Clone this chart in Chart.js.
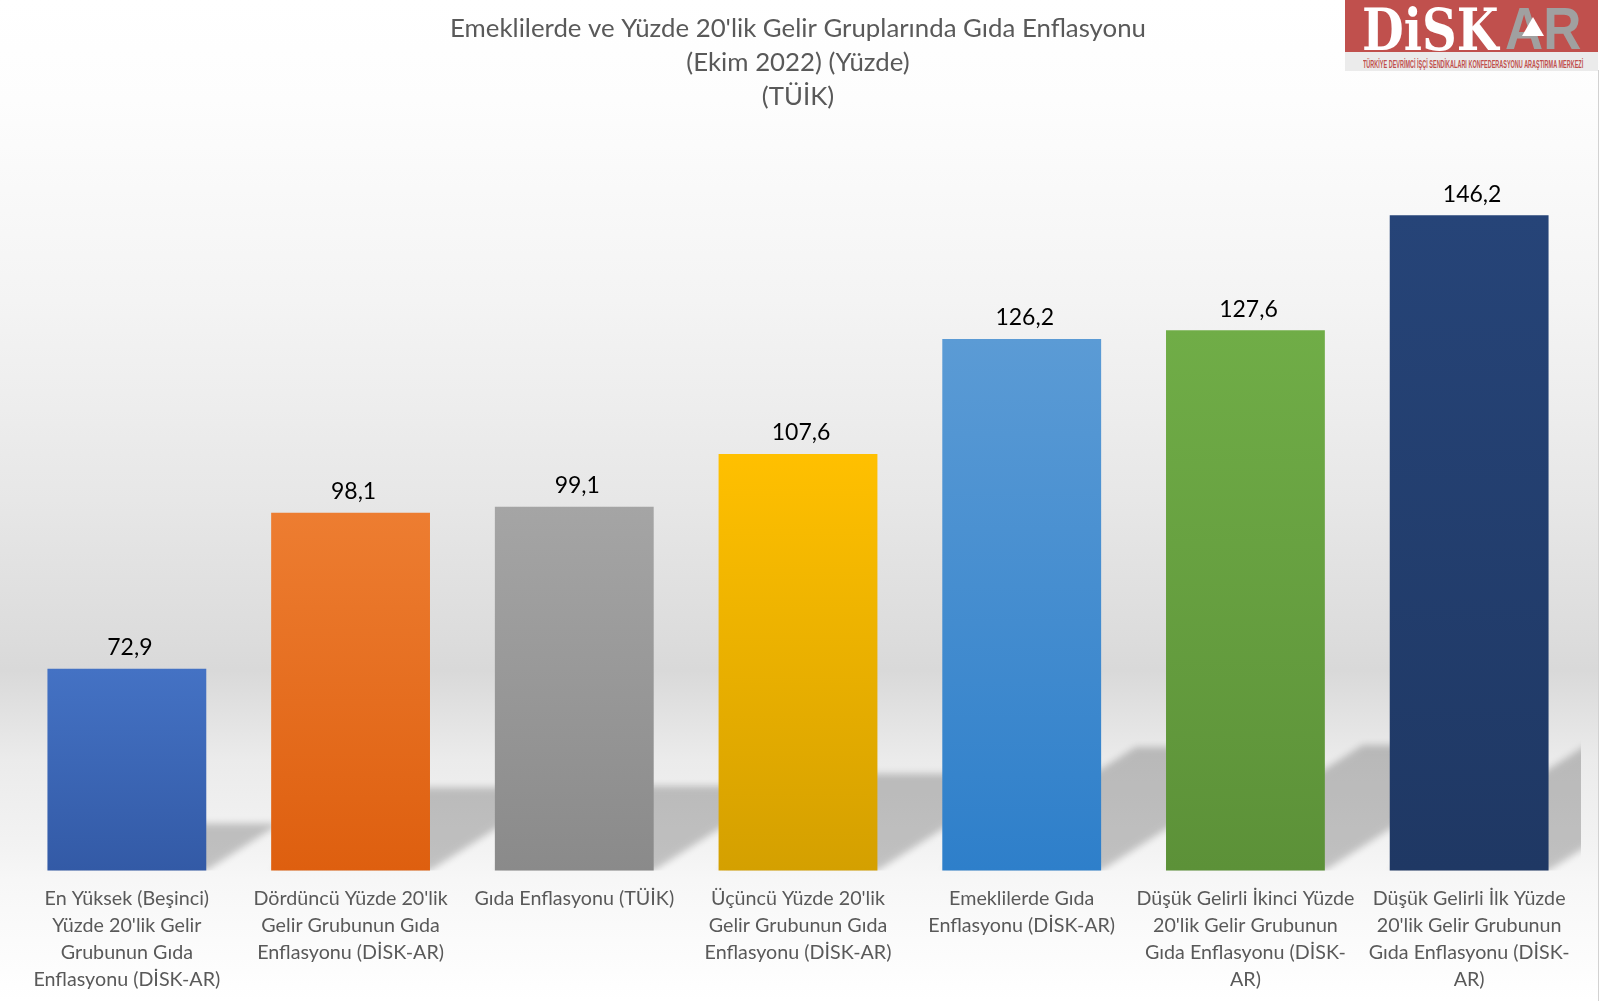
<!DOCTYPE html>
<html>
<head>
<meta charset="utf-8">
<title>Gıda Enflasyonu</title>
<script src="https://cdn.jsdelivr.net/npm/chart.js@4/dist/chart.umd.min.js"></script>
<style>
    html, body { margin: 0; padding: 0; background: #fff; }
    #wrap { position: relative; width: 1600px; height: 1001px; overflow: hidden;
        background: linear-gradient(to bottom, #ffffff 0px, #fdfdfd 100px, #f4f4f4 300px, #e7e7e7 500px, #dcdcdc 640px, #d9d9d9 670px, #ebebeb 760px, #f3f3f3 850px, #f7f7f7 880px, #ffffff 1001px); }
    canvas { position: absolute; left: 0; top: 0; }
    #bord { position: absolute; left: 1598px; top: 70px; width: 2px; height: 931px; background: #fff; border-left: 1px solid #d2d2d2; }
    /* logo */
    #logo { position: absolute; left: 1345px; top: 0; width: 253px; height: 71px; }
    #logo .red { position: absolute; left: 0; top: 0; width: 253px; height: 52px; background: #c0504d; overflow: hidden; }
    #logo .name { position: absolute; left: 17px; top: -4px; font: bold 58px/68px "DejaVu Serif"; color: #fff; transform: scaleX(0.83); transform-origin: left top; white-space: nowrap; }
    #logo .ar { position: absolute; left: 160px; top: -5px; font: bold 60px/68px "Liberation Sans"; color: #a0a0a0; transform: scaleX(0.88); transform-origin: left top; white-space: nowrap; }
    #logo .tri { position: absolute; left: 177px; top: 17px; width: 22px; height: 19px; background: #fff; clip-path: polygon(50% 0, 100% 100%, 0 100%); }
    #logo .sub { position: absolute; left: 0; top: 52px; width: 253px; height: 19px; background: #ebebeb; overflow: hidden; }
    #logo .sub span { position: absolute; left: 18px; top: 3px; font: bold 10px/19px "Liberation Sans Narrow", "Liberation Sans"; color: #c0504d; white-space: nowrap; transform: scaleX(0.55); transform-origin: left top; }
</style>
</head>
<body>
<div id="wrap">
    <canvas id="graphe" width="1600" height="1001"></canvas>
    <div id="bord"></div>
    <div id="logo">
        <div class="red"><div class="name">DiSK</div><div class="ar">AR</div><div class="tri"></div></div>
        <div class="sub"><span>TÜRKİYE DEVRİMCİ İŞÇİ SENDİKALARI KONFEDERASYONU ARAŞTIRMA MERKEZİ</span></div>
    </div>
</div>
<script>
const titre = ["Emeklilerde ve Yüzde 20'lik Gelir Gruplarında Gıda Enflasyonu", "(Ekim 2022) (Yüzde)", "(TÜİK)"];
const categories = [
    ["En Yüksek (Beşinci)", "Yüzde 20'lik Gelir", "Grubunun Gıda", "Enflasyonu (DİSK-AR)"],
    ["Dördüncü Yüzde 20'lik", "Gelir Grubunun Gıda", "Enflasyonu (DİSK-AR)"],
    ["Gıda Enflasyonu (TÜİK)"],
    ["Üçüncü Yüzde 20'lik", "Gelir Grubunun Gıda", "Enflasyonu (DİSK-AR)"],
    ["Emeklilerde Gıda", "Enflasyonu (DİSK-AR)"],
    ["Düşük Gelirli İkinci Yüzde", "20'lik Gelir Grubunun", "Gıda Enflasyonu (DİSK-", "AR)"],
    ["Düşük Gelirli İlk Yüzde", "20'lik Gelir Grubunun", "Gıda Enflasyonu (DİSK-", "AR)"]
];
const valeurs = [72.9, 98.1, 99.1, 107.6, 126.2, 127.6, 146.2];
const couleursHaut = ["#4472c4", "#ed7d31", "#a5a5a5", "#ffc000", "#5b9bd5", "#70ad47", "#264478"];
const couleursBas = ["#335aa6", "#de5f0f", "#8a8a8a", "#d4a000", "#2e7fca", "#5c9138", "#1f3864"];

//Ombre des barres
const ombre = {
    id: "ombre",
    beforeDatasetsDraw(chart) {
        const c = chart.ctx, zone = chart.chartArea;
        c.save();
        c.beginPath();
        c.rect(zone.left, zone.top, zone.right - zone.left, zone.bottom - zone.top);
        c.clip();
        //la forme est dessinee hors du canvas, seule l'ombre floue reste visible
        c.fillStyle = "#000";
        c.shadowColor = "rgba(0,0,0,0.21)";
        c.shadowBlur = 7;
        c.shadowOffsetX = 3000;
        chart.getDatasetMeta(0).data.forEach(function(bar) {
            let base = zone.bottom;
            let h = (base - bar.y) * 0.232;
            let dx = h * 1.57;
            let g = bar.x - bar.width / 2 - 3000, d = bar.x + bar.width / 2 - 3000;
            c.beginPath();
            c.moveTo(g, base);
            c.lineTo(d, base);
            c.lineTo(d + dx, base - h);
            c.lineTo(g + dx, base - h);
            c.closePath();
            c.fill();
        });
        c.restore();
    }
};

//Etiquettes au dessus des barres
const etiquettes = {
    id: "etiquettes",
    afterDatasetsDraw(chart) {
        const c = chart.ctx;
        c.save();
        c.font = "23px Lato";
        c.fillStyle = "#000";
        c.textAlign = "center";
        c.textBaseline = "middle";
        chart.getDatasetMeta(0).data.forEach(function(bar, i) {
            c.fillText(valeurs[i].toFixed(1).replace(".", ","), bar.x + 3, bar.y - 21);
        });
        c.restore();
    }
};

new Chart(document.getElementById("graphe"), {
    type: "bar",
    data: {
        labels: categories,
        datasets: [{
            data: valeurs,
            barPercentage: 0.71,
            categoryPercentage: 1,
            backgroundColor: function(context) {
                const chart = context.chart;
                if (!chart.chartArea) return couleursHaut[context.dataIndex];
                let y = chart.scales.y;
                let g = chart.ctx.createLinearGradient(0, y.getPixelForValue(valeurs[context.dataIndex]), 0, y.bottom);
                g.addColorStop(0, couleursHaut[context.dataIndex]);
                g.addColorStop(1, couleursBas[context.dataIndex]);
                return g;
            }
        }]
    },
    plugins: [ombre, etiquettes],
    options: {
        responsive: false,
        animation: false,
        layout: { padding: { left: 15, right: 19, top: 0, bottom: 0 } },
        plugins: {
            legend: { display: false },
            tooltip: { enabled: false },
            title: {
                display: true,
                text: titre,
                color: "#595959",
                font: { family: "Lato", size: 25.8, weight: "normal", lineHeight: 1.318 },
                padding: { top: 12, bottom: 14 }
            }
        },
        scales: {
            x: {
                grid: { display: false },
                border: { display: false },
                ticks: {
                    color: "#595959",
                    font: { family: "Lato", size: 19.7, lineHeight: 1.36 },
                    maxRotation: 0,
                    autoSkip: false,
                    padding: 7
                },
                afterFit: function(scale) { scale.height = 130.6; }
            },
            y: { display: false, min: 40.3, max: 160.3 }
        }
    }
});
</script>
</body>
</html>
